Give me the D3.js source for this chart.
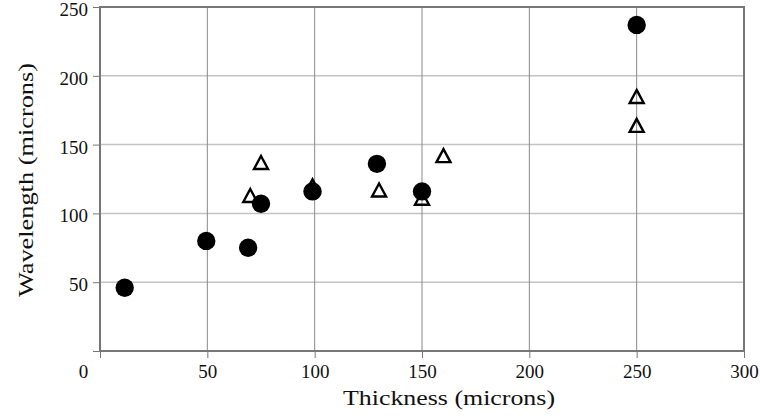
<!DOCTYPE html>
<html>
<head>
<meta charset="utf-8">
<script src="https://cdn.jsdelivr.net/npm/d3@7"></script>
<style>
  body { margin: 0; background: #fff; }
  text { font-family: "Liberation Serif", "DejaVu Serif", serif; fill: #111; }
</style>
</head>
<body>
<svg id="chart" width="760" height="419"></svg>
<script>
// circles: thickness / wavelength
var circleX = [11.5, 49.5, 69, 75, 99, 129, 150, 250];
var circleY = [46, 80, 75, 107, 116, 136, 116, 237];
// open triangles
var triX = [70, 75, 99, 130, 150, 160, 250, 250];
var triY = [113, 137, 120, 117, 111, 142, 185, 164];

var xTicks = [0, 50, 100, 150, 200, 250, 300];
var yTicks = [0, 50, 100, 150, 200, 250];

var svg = d3.select("#chart");
var margin = {left: 100, right: 16, top: 7, bottom: 68};
var W = 760, H = 419;

var x = d3.scaleLinear().domain([0, 300]).range([margin.left, W - margin.right]);
var y = d3.scaleLinear().domain([0, 250]).range([H - margin.bottom, margin.top]);

// gridlines
svg.append("g").selectAll("line")
  .data(yTicks.slice(1, -1))
  .enter().append("line")
  .attr("x1", x(0)).attr("x2", x(300))
  .attr("y1", function(d) { return y(d); }).attr("y2", function(d) { return y(d); })
  .attr("stroke", "#c4c4c4").attr("stroke-width", 1.5);

svg.append("g").selectAll("line")
  .data(xTicks.slice(1, -1))
  .enter().append("line")
  .attr("y1", y(0)).attr("y2", y(250))
  .attr("x1", function(d) { return x(d); }).attr("x2", function(d) { return x(d); })
  .attr("stroke", "#8a8a8a").attr("stroke-width", 1);

// axes
var xAxis = svg.append("g")
  .attr("transform", "translate(0," + y(0) + ")")
  .call(d3.axisBottom(x).tickValues(xTicks).tickSize(7).tickPadding(7).tickSizeOuter(0));
var yAxis = svg.append("g")
  .attr("transform", "translate(" + x(0) + ",0)")
  .call(d3.axisLeft(y).tickValues(yTicks).tickSize(7).tickPadding(5).tickSizeOuter(0)
    .tickFormat(function(d) { return d === 0 ? "" : d; }));

[xAxis, yAxis].forEach(function(a) {
  a.select(".domain").remove();
  a.selectAll(".tick line").attr("stroke", "#777").attr("stroke-width", 1);
  a.selectAll(".tick text").style("font-family", "Liberation Serif, serif")
    .style("font-size", "19px").attr("fill", "#111");
});
yAxis.selectAll(".tick text").attr("dy", "0.45em");
// origin label sits a bit left of the corner
xAxis.selectAll(".tick text").filter(function(d) { return d === 0; }).attr("dx", -17);

// frame
svg.append("rect")
  .attr("x", x(0)).attr("y", y(250))
  .attr("width", x(300) - x(0)).attr("height", y(0) - y(250))
  .attr("fill", "none").attr("stroke", "#777").attr("stroke-width", 2);

// marks
svg.append("g").selectAll("path")
  .data(d3.range(triX.length))
  .enter().append("path")
  .attr("transform", function(i) { return "translate(" + x(triX[i]) + "," + y(triY[i]) + ")"; })
  .attr("d", "M0,-6.5L7,6.5L-7,6.5Z")
  .attr("fill", "none").attr("stroke", "#000").attr("stroke-width", 2.4)
  .attr("stroke-linejoin", "miter");

svg.append("g").selectAll("circle")
  .data(d3.range(circleX.length))
  .enter().append("circle")
  .attr("cx", function(i) { return x(circleX[i]); })
  .attr("cy", function(i) { return y(circleY[i]); })
  .attr("r", 9.2)
  .attr("fill", "#000");

// titles
svg.append("text")
  .attr("x", 449).attr("y", 405)
  .attr("text-anchor", "middle")
  .attr("textLength", 212).attr("lengthAdjust", "spacingAndGlyphs")
  .style("font-size", "22px")
  .text("Thickness (microns)");

svg.append("text")
  .attr("transform", "translate(33,180) rotate(-90)")
  .attr("text-anchor", "middle")
  .attr("textLength", 234).attr("lengthAdjust", "spacingAndGlyphs")
  .style("font-size", "22px")
  .text("Wavelength (microns)");
</script>
</body>
</html>
